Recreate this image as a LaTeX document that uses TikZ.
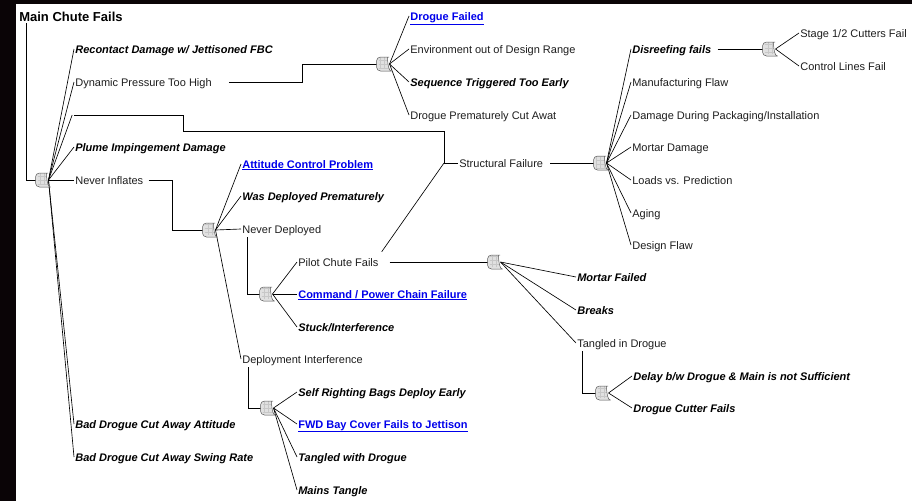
\documentclass[tikz,border=0pt]{standalone}
\usepackage{fontspec}
\setmainfont{Liberation Sans}
\usetikzlibrary{positioning}
\definecolor{linkblue}{RGB}{0,0,235}
\definecolor{gatefill}{RGB}{224,224,224}
\definecolor{inktext}{RGB}{30,30,30}
\definecolor{night}{RGB}{10,4,6}
\newcommand{\gatew}{15pt}

\begin{document}
\begin{tikzpicture}[x=1pt, y=-1pt, line width=.65pt,
    ev/.style={anchor=west, inner sep=1pt, text height=8pt, text depth=0pt, text=inktext, font=\fontsize{11}{13}\selectfont},
    bi/.style={ev, text=black, font=\fontsize{11}{13}\selectfont\bfseries\itshape},
    lnk/.style={ev, text=linkblue, font=\fontsize{11}{13}\selectfont\bfseries},
    gate/.style={minimum width=\gatew, minimum height=14pt, inner sep=0pt, outer sep=0pt},
    gateshape/.style={draw=black!65, fill=gatefill, line width=.5pt, rounded corners=4pt,
      path picture={\draw[black!22, line width=.2pt] ([shift={(2pt,2pt)}]path picture bounding box.south west) grid[step=4pt] (path picture bounding box.north east);}}]
        \useasboundingbox (0,0) rectangle (912,501);
        \fill[night] (0,0) rectangle (912,501);
        \fill[white] (16,4) rectangle (912,501);

        % top event
        \node (title) at (18,17) [anchor=west, inner sep=1pt, text height=9.5pt, text depth=0pt, font=\fontsize{13}{15}\selectfont\bfseries] {Main Chute Fails};
        \node (g0) at (43,180) [gate] {};
        \node (rec) at (74,49) [bi] {Recontact Damage w/ Jettisoned FBC};
        \node (dyn) at (74,82) [ev] {Dynamic Pressure Too High};
        \node (sflink) at (73,115) [inner sep=0pt] {};
        \node (plume) at (74,147) [bi] {Plume Impingement Damage};
        \node (ni) at (74,180) [ev] {Never Inflates};
        \node (bda) at (74,424) [bi] {Bad Drogue Cut Away Attitude};
        \node (bds) at (74,457) [bi] {Bad Drogue Cut Away Swing Rate};

        % dynamic pressure branch
        \node (gd) at (384,64) [gate] {};
        \node (df) at (409,16) [lnk] {\underline{Drogue Failed}};
        \node (env) at (409,49) [ev] {Environment out of Design Range};
        \node (seq) at (409,82) [bi] {Sequence Triggered Too Early};
        \node (dpc) at (409,115) [ev] {Drogue Prematurely Cut Awat};

        % structural failure branch
        \node (sf) at (458,163) [ev] {Structural Failure};
        \node (gs) at (601,163) [gate] {};
        \node (dis) at (631,49) [bi] {Disreefing fails};
        \node (mfg) at (631,82) [ev] {Manufacturing Flaw};
        \node (dpi) at (631,115) [ev] {Damage During Packaging/Installation};
        \node (mdam) at (631,147) [ev] {Mortar Damage};
        \node (lvp) at (631,180) [ev] {Loads vs. Prediction};
        \node (age) at (631,213) [ev] {Aging};
        \node (dflaw) at (631,245) [ev] {Design Flaw};
        \node (gr) at (770,49) [gate] {};
        \node (stg) at (799,33) [ev] {Stage 1/2 Cutters Fail};
        \node (clf) at (799,66) [ev] {Control Lines Fail};

        % never inflates branch
        \node (gn) at (210,230) [gate] {};
        \node (acp) at (241,164) [lnk] {\underline{Attitude Control Problem}};
        \node (wdp) at (241,196) [bi] {Was Deployed Prematurely};
        \node (nd) at (241,229) [ev] {Never Deployed};
        \node (dint) at (241,359) [ev] {Deployment Interference};

        \node (gnd) at (267,294) [gate] {};
        \node (pc) at (297,262) [ev] {Pilot Chute Fails};
        \node (cpc) at (297,294) [lnk] {\underline{Command / Power Chain Failure}};
        \node (stk) at (297,327) [bi] {Stuck/Interference};

        \node (gpc) at (495,262) [gate] {};
        \node (mf) at (576,277) [bi] {Mortar Failed};
        \node (brk) at (576,310) [bi] {Breaks};
        \node (tid) at (576,343) [ev] {Tangled in Drogue};

        \node (gt) at (603,393) [gate] {};
        \node (dly) at (632,376) [bi] {Delay b/w Drogue \& Main is not Sufficient};
        \node (dcf) at (632,408) [bi] {Drogue Cutter Fails};

        \node (gdi) at (268,408) [gate] {};
        \node (srb) at (297,392) [bi] {Self Righting Bags Deploy Early};
        \node (fwd) at (297,424) [lnk] {\underline{FWD Bay Cover Fails to Jettison}};
        \node (twd) at (297,457) [bi] {Tangled with Drogue};
        \node (mt) at (297,490) [bi] {Mains Tangle};

        % event to gate
        \draw ([xshift=8pt]title.south west) |- (g0.west);
        \draw ([xshift=16pt]dyn.east) -| ([xshift=-74pt]gd.west) -- (gd.west);
        \draw (sflink) -- ++(110,0) -- ++(0,16) -| ([xshift=-14pt]sf.west) -- (sf.west);
        \draw ([xshift=-14pt]sf.west) -- ([shift={(2pt,5pt)}]pc.north east);
        \draw ([xshift=6pt]sf.east) -- (gs.west);
        \draw ([xshift=5pt]dis.east) -- (gr.west);
        \draw ([xshift=4pt]ni.east) -| ([xshift=-30pt]gn.west) -- (gn.west);
        \draw ([shift={(6pt,-3pt)}]nd.south west) |- (gnd.west);
        \draw ([xshift=10pt]pc.east) -- (gpc.west);
        \draw ([shift={(6pt,-3pt)}]tid.south west) |- (gt.west);
        \draw ([shift={(7pt,-3pt)}]dint.south west) |- (gdi.west);

        % gate to inputs
        \foreach \c in {rec,dyn,sflink,plume,ni,bda,bds}
                \draw ([xshift=-2pt]g0.east) -- (\c.west);
        \foreach \c in {df,env,seq,dpc}
                \draw ([xshift=-2pt]gd.east) -- (\c.west);
        \foreach \c in {dis,mfg,dpi,mdam,lvp,age,dflaw}
                \draw ([xshift=-2pt]gs.east) -- (\c.west);
        \foreach \c in {stg,clf}
                \draw ([xshift=-2pt]gr.east) -- (\c.west);
        \foreach \c in {acp,wdp,nd,dint}
                \draw ([xshift=-2pt]gn.east) -- (\c.west);
        \foreach \c in {pc,cpc,stk}
                \draw ([xshift=-2pt]gnd.east) -- (\c.west);
        \foreach \c in {mf,brk,tid}
                \draw ([xshift=-2pt]gpc.east) -- (\c.west);
        \foreach \c in {dly,dcf}
                \draw ([xshift=-2pt]gt.east) -- (\c.west);
        \foreach \c in {srb,fwd,twd,mt}
                \draw ([xshift=-2pt]gdi.east) -- (\c.west);

        % gate symbols
        \foreach \g in {g0,gd,gs,gr,gn,gnd,gpc,gt,gdi}
                \filldraw[gateshape] (\g.south east) -- (\g.south west) -- (\g.north west) -- (\g.north east) [sharp corners]
                  .. controls ([xshift=-4pt]\g.north east) and ([xshift=-4pt]\g.south east) .. (\g.south east);
\end{tikzpicture}
\end{document}
